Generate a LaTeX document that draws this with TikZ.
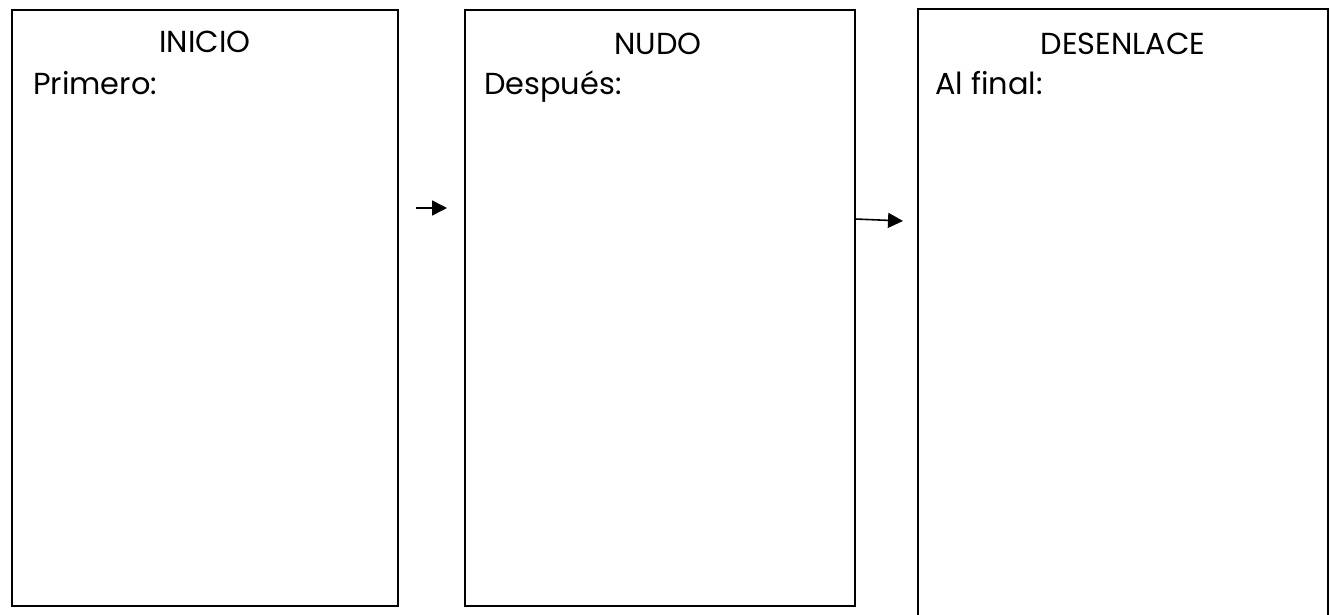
\documentclass[tikz,border=0pt]{standalone}
\usepackage{fontspec}
\setmainfont{Poppins}
\usetikzlibrary{arrows.meta}
\begin{document}
\begin{tikzpicture}[x=1bp,y=-1bp,
  box/.style={draw=black,line width=1.6bp,rectangle,inner sep=0pt},
  title/.style={anchor=base,inner sep=0pt,font=\fontsize{30.5}{34}\selectfont},
  lbl/.style={anchor=base west,inner sep=0pt,font=\fontsize{30.5}{34}\selectfont},
  arr/.style={line width=1.6bp,-{Triangle[length=15bp,width=15bp]}}]
\useasboundingbox[fill=white] (0,0) rectangle (1332,615);
\node[box,minimum width=386bp,minimum height=596bp] (b1) at (205,308) {};
\node[box,minimum width=390bp,minimum height=596bp] (b2) at (660,308) {};
\node[box,minimum width=410bp,minimum height=621bp] (b3) at (1123,319.5) {};
\node[title] (t1) at (205,53) {INICIO};
\node[title] (t2) at (658,55) {NUDO};
\node[title] (t3) at (1123,55) {DESENLACE};
\node[lbl] (l1) at (33,95) {Primero:};
\node[lbl] (l2) at (484,95) {Después:};
\node[lbl] (l3) at (935,95) {Al final:};
\coordinate (a1s) at (416,208);
\coordinate (a1e) at (447,208);
\coordinate (a2s) at (855,219);
\coordinate (a2e) at (903,221);
\draw[arr] (a1s) -- (a1e);
\draw[arr] (a2s) -- (a2e);
\end{tikzpicture}
\end{document}
